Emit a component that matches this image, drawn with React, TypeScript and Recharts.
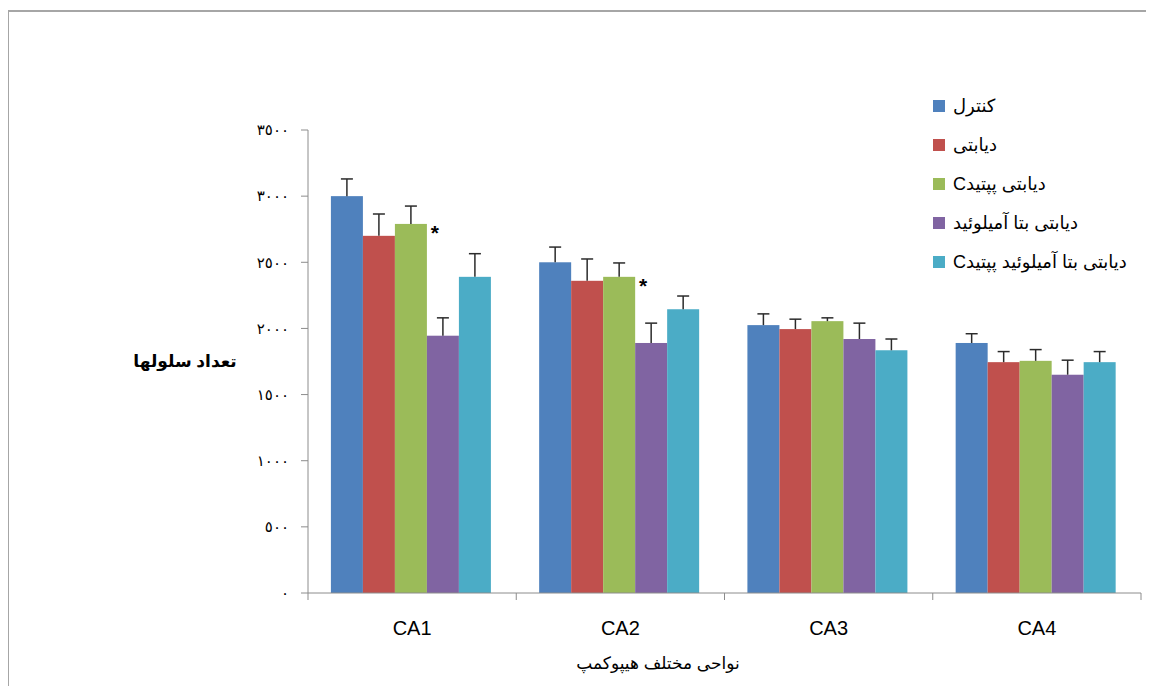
import React from 'react'
import { Bar, BarChart, LabelList, XAxis, YAxis } from 'recharts'

// hippocampus regions
const regions = ['CA1', 'CA2', 'CA3', 'CA4']

// mean cell counts per group
const control = [3000, 2500, 2025, 1890]
const diabetic = [2700, 2360, 1995, 1745]
const diabeticPeptide = [2790, 2390, 2055, 1755]
const diabeticAmyloid = [1945, 1890, 1920, 1650]
const diabeticAmyloidPeptide = [2390, 2145, 1835, 1745]

// upper error (SEM) per group
const controlErr = [130, 115, 85, 70]
const diabeticErr = [165, 165, 75, 80]
const diabeticPeptideErr = [135, 105, 25, 85]
const diabeticAmyloidErr = [135, 150, 120, 110]
const diabeticAmyloidPeptideErr = [175, 100, 85, 80]

// significance marks next to the C-peptide bars
const significance = ['*', '*', '', '']

const yTicks = [0, 500, 1000, 1500, 2000, 2500, 3000, 3500]

const series = [
  { key: 'control', err: 'controlErr', name: 'کنترل', color: '#4F81BD' },
  { key: 'diabetic', err: 'diabeticErr', name: 'دیابتی', color: '#C0504D' },
  { key: 'diabeticPeptide', err: 'diabeticPeptideErr', name: 'دیابتی پپتیدC', color: '#9BBB59' },
  { key: 'diabeticAmyloid', err: 'diabeticAmyloidErr', name: 'دیابتی بتا آمیلوئید', color: '#8064A2' },
  { key: 'diabeticAmyloidPeptide', err: 'diabeticAmyloidPeptideErr', name: 'دیابتی بتا آمیلوئید پپتیدC', color: '#4BACC6' },
]

const data = regions.map((region, i) => ({
  region,
  control: control[i],
  diabetic: diabetic[i],
  diabeticPeptide: diabeticPeptide[i],
  diabeticAmyloid: diabeticAmyloid[i],
  diabeticAmyloidPeptide: diabeticAmyloidPeptide[i],
  controlErr: controlErr[i],
  diabeticErr: diabeticErr[i],
  diabeticPeptideErr: diabeticPeptideErr[i],
  diabeticAmyloidErr: diabeticAmyloidErr[i],
  diabeticAmyloidPeptideErr: diabeticAmyloidPeptideErr[i],
  mark: significance[i],
}))

const FONT = '"Liberation Sans", "DejaVu Sans", Arial, sans-serif'
const AXIS = '#8c8c8c'

const toArabicDigits = (v: number) =>
  String(v).replace(/\d/g, (d) => '٠١٢٣٤٥٦٧٨٩'[Number(d)])

// bar with an upward-only error whisker, sized from the bar's own scale
const makeShape = (key: string, errKey: string) => (props: any) => {
  const { x, y, width, height, fill, payload } = props
  const value = payload[key]
  const errPx = value ? (payload[errKey] * height) / value : 0
  const cx = x + width / 2
  const top = y - errPx
  return (
    <g>
      <rect x={x} y={y} width={width} height={height} fill={fill} />
      <line x1={cx} y1={y} x2={cx} y2={top} stroke="#2b2b2b" strokeWidth={1.5} />
      <line x1={cx - 6} y1={top} x2={cx + 6} y2={top} stroke="#2b2b2b" strokeWidth={1.5} />
    </g>
  )
}

// category tick: name centred, tick marks on the band borders
const RegionTick = (props: any) => {
  const { x, y, payload, index } = props
  const half = payload.offset ?? 104
  const last = index === regions.length - 1
  return (
    <g>
      <line x1={x - half} y1={y - 8} x2={x - half} y2={y - 1} stroke={AXIS} />
      {last && <line x1={x + half} y1={y - 8} x2={x + half} y2={y - 1} stroke={AXIS} />}
      <text x={x} y={y + 34} textAnchor="middle" fontSize={20} fill="#000" fontFamily={FONT}>
        {payload.value}
      </text>
    </g>
  )
}

const AsteriskLabel = (props: any) => {
  const { x, y, width, value } = props
  if (!value) return null
  return (
    <text x={x + width + 8} y={y + 16} textAnchor="middle" fontSize={21} fontWeight="bold" fill="#000" fontFamily={FONT}>
      {value}
    </text>
  )
}

export default function App() {
  return (
    <div style={{ position: 'relative', width: 1138, height: 678, fontFamily: FONT }}>
      <div
        style={{
          position: 'absolute',
          left: -1,
          top: 2,
          width: 1147,
          height: 676,
          borderLeft: '2px solid #a6a6a6',
          borderTop: '2px solid #a6a6a6',
          boxSizing: 'border-box',
        }}
      />
      <BarChart
        width={1138}
        height={678}
        data={data}
        margin={{ top: 122, right: 5, left: 0, bottom: 0 }}
        barCategoryGap="11%"
        barGap={0}
        style={{ position: 'absolute', left: 0, top: 0 }}
      >
        <XAxis
          dataKey="region"
          interval={0}
          tick={<RegionTick />}
          tickLine={false}
          axisLine={{ stroke: AXIS }}
          height={93}
        />
        <YAxis
          width={300}
          domain={[0, 3500]}
          ticks={yTicks}
          interval={0}
          tickFormatter={toArabicDigits}
          tick={{ fontSize: 15, fill: '#000', fontFamily: FONT, letterSpacing: 4 }}
          tickLine={{ stroke: AXIS }}
          tickSize={7}
          tickMargin={12}
          axisLine={{ stroke: AXIS }}
        />
        {series.map((s) => (
          <Bar
            key={s.key}
            dataKey={s.key}
            name={s.name}
            fill={s.color}
            isAnimationActive={false}
            shape={makeShape(s.key, s.err)}
          >
            {s.key === 'diabeticPeptide' && <LabelList dataKey="mark" content={<AsteriskLabel />} />}
          </Bar>
        ))}
      </BarChart>

      {/* y axis title */}
      <div
        dir="rtl"
        style={{ position: 'absolute', left: 107, top: 343, width: 140, textAlign: 'center', fontSize: 17, fontWeight: 'bold' }}
      >
        تعداد سلولها
      </div>

      {/* x axis title */}
      <div
        dir="rtl"
        style={{ position: 'absolute', left: 540, top: 645, width: 220, textAlign: 'center', fontSize: 17 }}
      >
        نواحی مختلف هیپوکمپ
      </div>

      {/* legend */}
      <div style={{ position: 'absolute', left: 925, top: 78 }}>
        {series.map((s) => (
          <div key={s.key} style={{ display: 'flex', alignItems: 'center', height: 39 }}>
            <span style={{ width: 12, height: 12, background: s.color, marginRight: 8, flexShrink: 0 }} />
            <span dir="rtl" style={{ fontSize: 18, whiteSpace: 'nowrap' }}>
              {s.name}
            </span>
          </div>
        ))}
      </div>
    </div>
  )
}
